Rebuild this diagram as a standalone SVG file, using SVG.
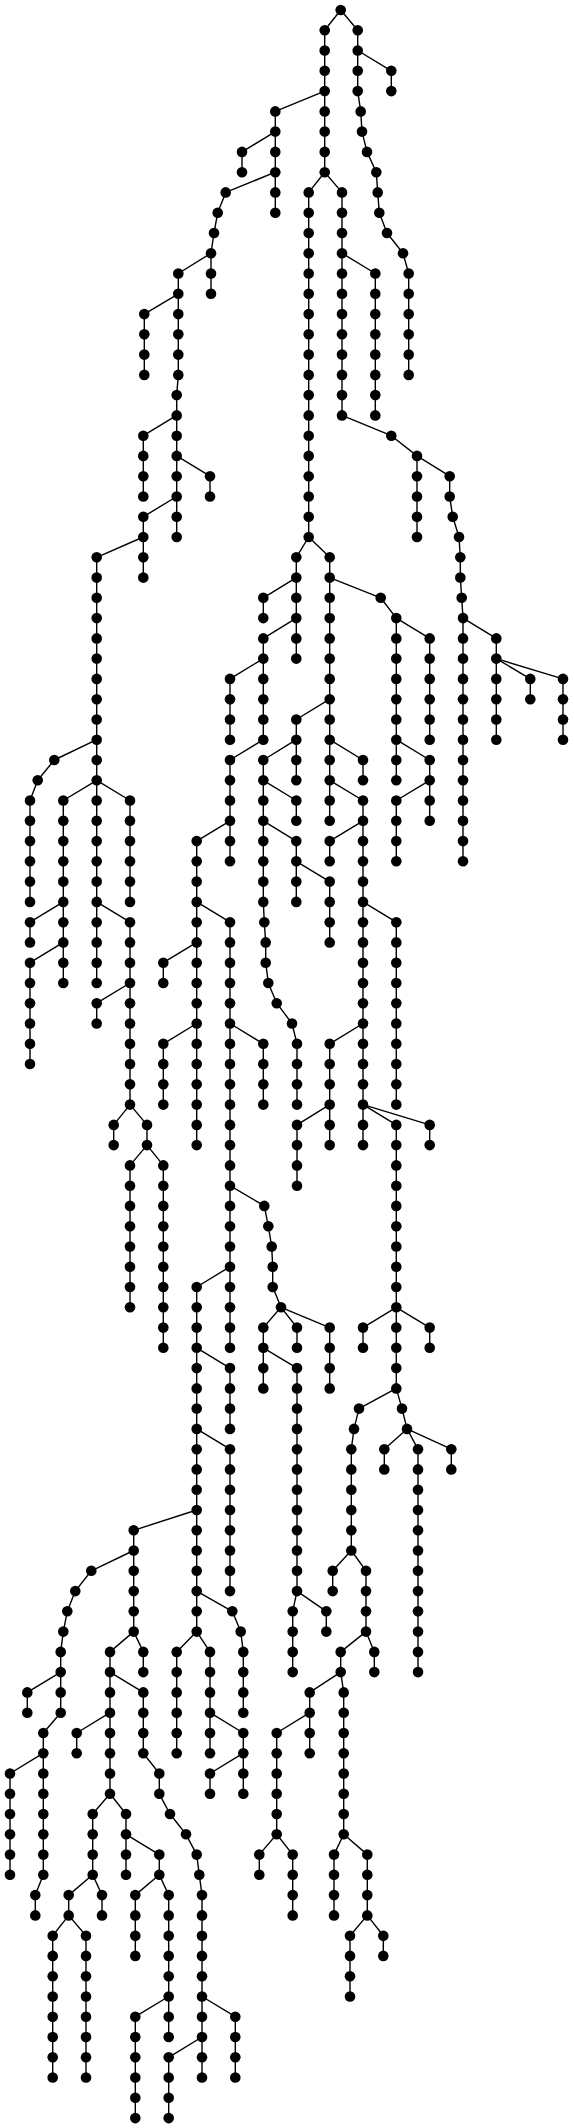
<svg xmlns="http://www.w3.org/2000/svg" width="574" height="2128" viewBox="0 0 574 2128">
<style>.e{fill:none;stroke:#000;stroke-width:1.4;stroke-linejoin:round}circle{fill:#000}</style>
<rect width="574" height="2128" fill="#fff"/>
<g id="connectors" class="e">
<path d="M340.7 10 L324.7 30.3 V172.2"/>
<path d="M340.7 10 L357.7 30.3 V91.1 L360.7 111.4 L362 131.6 L367 151.9 L376.3 172.2 L377.7 192.4 L379.3 212.7 L387 233 L403 253.2 L408.7 273.5 V374.9"/>
<path d="M357.7 50.5 L391.3 70.8 V91.1"/>
<path d="M324.7 91.1 L275.3 111.4 V212.7"/>
<path d="M275.3 131.6 L242 151.9 V172.2"/>
<path d="M275.3 172.2 L225.7 192.4 L217.7 212.7 L214 233 L211 253.2 V293.8"/>
<path d="M211 253.2 L178.3 273.5 V374.9 L176.7 395.1 V537"/>
<path d="M178.3 293.8 L144.3 314.1 V374.9"/>
<path d="M176.7 415.4 L143.3 435.7 V496.5"/>
<path d="M176.7 455.9 L210 476.2 V496.5"/>
<path d="M176.7 496.5 L143.3 516.8 V577.6"/>
<path d="M143.3 537 L96.7 557.3 V983"/>
<path d="M96.7 739.7 L54.3 760 L37.7 780.3 L30 800.5 V901.9"/>
<path d="M96.7 780.3 L63.3 800.5 V983"/>
<path d="M63.3 901.9 L30 922.2 V942.4"/>
<path d="M63.3 942.4 L30 962.7 V1064"/>
<path d="M96.7 780.3 L130 800.5 V901.9"/>
<path d="M96.7 901.9 L130 922.2 V1104.6"/>
<path d="M130 983 L96.7 1003.2 V1023.5"/>
<path d="M130 1104.6 L113.7 1124.9 V1145.1"/>
<path d="M130 1104.6 L147 1124.9 V1145.1"/>
<path d="M147 1145.1 L130 1165.4 V1307.3"/>
<path d="M147 1145.1 L163.3 1165.4 V1347.8"/>
<path d="M324.7 172.2 L308.7 192.4 V537"/>
<path d="M324.7 172.2 L342 192.4 V415.4 L391.3 435.7 L417 455.9 V537"/>
<path d="M342 253.2 L375.3 273.5 V415.4"/>
<path d="M417 455.9 L449.7 476.2 V496.5 L452.7 516.8 L459 537 L460.3 557.3 V577.6 L461.7 597.8 L463 618.1 V861.3"/>
<path d="M463 618.1 L496.3 638.4 V739.7"/>
<path d="M496.3 658.6 L530.3 678.9 V699.2"/>
<path d="M496.3 658.6 L563 678.9 V739.7"/>
<path d="M308.7 537 L296.3 557.3 V658.6"/>
<path d="M308.7 537 L329.7 557.3 V820.8"/>
<path d="M329.7 577.6 L380.7 597.8 L396.3 618.1 V780.3"/>
<path d="M396.3 618.1 L429.7 638.4 V739.7"/>
<path d="M396.3 739.7 L429.7 760 V820.8"/>
<path d="M429.7 780.3 L396.3 800.5 V861.3"/>
<path d="M296.3 577.6 L263.3 597.8 V618.1"/>
<path d="M296.3 618.1 L263.3 638.4 V739.7"/>
<path d="M263.3 658.6 L230 678.9 V739.7"/>
<path d="M263.3 739.7 L230 760 V861.3"/>
<path d="M230 820.8 L196.7 841.1 V1145.1"/>
<path d="M196.7 942.4 L163.3 962.7 V983"/>
<path d="M196.7 1023.5 L163.3 1043.8 V1104.6"/>
<path d="M196.7 901.9 L230 922.2 V1347.8"/>
<path d="M230 1023.5 L263.3 1043.8 V1104.6"/>
<path d="M230 1185.7 L264.3 1205.9 L268.3 1226.2 L271.7 1246.5 L272.7 1266.7 V1287 L281 1307.3"/>
<path d="M281 1307.3 L263.3 1327.6 V1388.4"/>
<path d="M281 1307.3 L297 1327.6 V1347.8"/>
<path d="M281 1307.3 L329.7 1327.6 V1388.4"/>
<path d="M263.3 1347.8 L297 1368.1 V1591.1"/>
<path d="M297 1591.1 L292.7 1611.3 V1672.1"/>
<path d="M297 1591.1 L326.3 1611.3 V1631.6"/>
<path d="M230 1266.7 L196.7 1287 V1631.6"/>
<path d="M196.7 1347.8 L230 1368.1 V1428.9"/>
<path d="M196.7 1428.9 L230 1449.2 V1591.1"/>
<path d="M196.7 1591.1 L232.3 1611.3 L240.7 1631.6 L243.3 1651.9 V1712.7"/>
<path d="M196.7 1631.6 L176.7 1651.9 V1753.2"/>
<path d="M196.7 1631.6 L210 1651.9 V1753.2"/>
<path d="M210 1712.7 L243.3 1733 V1793.8"/>
<path d="M243.3 1753.2 L210 1773.5 V1793.8"/>
<path d="M196.7 1510 L133.7 1530.3 V1631.6"/>
<path d="M133.7 1631.6 L143.3 1651.9 V1672.1"/>
<path d="M133.7 1631.6 L110 1651.9 V1793.8"/>
<path d="M110 1712.7 L76.7 1733 V1753.2"/>
<path d="M110 1672.1 L143.3 1692.4 V1753.2 L159.3 1773.5 V1793.8 L170 1814 L186 1834.3 L196.7 1854.6 L199.3 1874.8 L202 1895.1 V2077.5"/>
<path d="M202 1996.5 L235.3 2016.7 V2077.5"/>
<path d="M202 2037 L168.7 2057.3 V2118.1"/>
<path d="M110 1793.8 L92.7 1814 V1874.8"/>
<path d="M92.7 1874.8 L102 1895.1 V1915.4"/>
<path d="M92.7 1874.8 L68.7 1895.1 V1915.4"/>
<path d="M68.7 1915.4 L52.7 1935.7 V2077.5"/>
<path d="M68.7 1915.4 L86 1935.7 V2077.5"/>
<path d="M110 1793.8 L126 1814 V1874.8"/>
<path d="M126 1834.3 L159.3 1854.6 V1874.8"/>
<path d="M159.3 1874.8 L135.3 1895.1 V1955.9"/>
<path d="M159.3 1874.8 L168.7 1895.1 V2037"/>
<path d="M168.7 1996.5 L135.3 2016.7 V2118.1"/>
<path d="M133.7 1550.5 L91.3 1570.8 L75.3 1591.1 L67.3 1611.3 L63.3 1631.6 L60.7 1651.9 V1712.7"/>
<path d="M60.7 1672.1 L27.3 1692.4 V1712.7"/>
<path d="M60.7 1712.7 L43.3 1733 V1874.8"/>
<path d="M43.3 1753.2 L10 1773.5 V1874.8"/>
<path d="M43.3 1874.8 L35.3 1895.1 V1915.4"/>
<path d="M329.7 699.2 L296.3 719.5 V780.3"/>
<path d="M296.3 739.7 L263.3 760 V901.9 L264.3 922.2 L265.7 942.4 L265.7 962.7 L268.3 983 L276.7 1003.2 L292 1023.5 L297 1043.8 V1104.6"/>
<path d="M263.3 780.3 L296.3 800.5 V820.8"/>
<path d="M263.3 820.8 L296.3 841.1 V901.9"/>
<path d="M296.3 861.3 L329.7 881.6 V942.4"/>
<path d="M329.7 739.7 L363 760 V780.3"/>
<path d="M329.7 780.3 L363 800.5 V1145.1"/>
<path d="M363 820.8 L329.7 841.1 V861.3"/>
<path d="M363 901.9 L396.3 922.2 V1104.6"/>
<path d="M363 1023.5 L329.7 1043.8 V1145.1"/>
<path d="M329.7 1104.6 L297 1124.9 V1185.7"/>
<path d="M363 1104.6 L429.7 1124.9 V1145.1"/>
<path d="M363 1104.6 L396.3 1124.9 V1388.4"/>
<path d="M396.3 1307.3 L363 1327.6 V1347.8"/>
<path d="M396.3 1307.3 L429.7 1327.6 V1347.8"/>
<path d="M396.3 1388.4 L359 1408.6 L354 1428.9 L351.3 1449.2 V1550.5"/>
<path d="M351.3 1550.5 L332.7 1570.8 V1591.1"/>
<path d="M351.3 1550.5 L366 1570.8 V1631.6"/>
<path d="M366 1631.6 L374.3 1651.9 V1672.1"/>
<path d="M366 1631.6 L340.7 1651.9 V1672.1"/>
<path d="M340.7 1672.1 L309.7 1692.4 V1753.2"/>
<path d="M309.7 1712.7 L276.7 1733 V1834.3"/>
<path d="M276.7 1834.3 L259.3 1854.6 V1874.8"/>
<path d="M276.7 1834.3 L292.7 1854.6 V1915.4"/>
<path d="M340.7 1672.1 L343.7 1692.4 V1834.3"/>
<path d="M343.7 1834.3 L334 1854.6 V1915.4"/>
<path d="M343.7 1834.3 L367.3 1854.6 V1915.4"/>
<path d="M367.3 1915.4 L350 1935.7 V1996.5"/>
<path d="M367.3 1915.4 L383.3 1935.7 V1955.9"/>
<path d="M396.3 1388.4 L402 1408.6 L407 1428.9"/>
<path d="M407 1428.9 L384.3 1449.2 V1469.4"/>
<path d="M407 1428.9 L418 1449.2 V1672.1"/>
<path d="M407 1428.9 L451.3 1449.2 V1469.4"/>
</g>
<g id="nodes">
<g id="n0"><circle cx="340.7" cy="10" r="5.3"/></g>
<g id="c2-1"><circle cx="324.7" cy="30.3" r="5.3"/></g>
<g id="c2-2"><circle cx="324.7" cy="50.5" r="5.3"/></g>
<g id="c2-3"><circle cx="324.7" cy="70.8" r="5.3"/></g>
<g id="c2-4"><circle cx="324.7" cy="91.1" r="5.3"/></g>
<g id="c2-5"><circle cx="324.7" cy="111.4" r="5.3"/></g>
<g id="c2-6"><circle cx="324.7" cy="131.6" r="5.3"/></g>
<g id="c2-7"><circle cx="324.7" cy="151.9" r="5.3"/></g>
<g id="c2-8"><circle cx="324.7" cy="172.2" r="5.3"/></g>
<g id="c3-1"><circle cx="357.7" cy="30.3" r="5.3"/></g>
<g id="c3-2"><circle cx="357.7" cy="50.5" r="5.3"/></g>
<g id="c3-3"><circle cx="357.7" cy="70.8" r="5.3"/></g>
<g id="c3-4"><circle cx="357.7" cy="91.1" r="5.3"/></g>
<g id="c3-5"><circle cx="360.7" cy="111.4" r="5.3"/></g>
<g id="c3-6"><circle cx="362" cy="131.6" r="5.3"/></g>
<g id="c3-7"><circle cx="367" cy="151.9" r="5.3"/></g>
<g id="c3-8"><circle cx="376.3" cy="172.2" r="5.3"/></g>
<g id="c3-9"><circle cx="377.7" cy="192.4" r="5.3"/></g>
<g id="c3-10"><circle cx="379.3" cy="212.7" r="5.3"/></g>
<g id="c3-11"><circle cx="387" cy="233" r="5.3"/></g>
<g id="c3-12"><circle cx="403" cy="253.2" r="5.3"/></g>
<g id="c3-13"><circle cx="408.7" cy="273.5" r="5.3"/></g>
<g id="c3-14"><circle cx="408.7" cy="293.8" r="5.3"/></g>
<g id="c3-15"><circle cx="408.7" cy="314.1" r="5.3"/></g>
<g id="c3-16"><circle cx="408.7" cy="334.3" r="5.3"/></g>
<g id="c3-17"><circle cx="408.7" cy="354.6" r="5.3"/></g>
<g id="c3-18"><circle cx="408.7" cy="374.9" r="5.3"/></g>
<g id="c4-1"><circle cx="391.3" cy="70.8" r="5.3"/></g>
<g id="c4-2"><circle cx="391.3" cy="91.1" r="5.3"/></g>
<g id="c5-1"><circle cx="275.3" cy="111.4" r="5.3"/></g>
<g id="c5-2"><circle cx="275.3" cy="131.6" r="5.3"/></g>
<g id="c5-3"><circle cx="275.3" cy="151.9" r="5.3"/></g>
<g id="c5-4"><circle cx="275.3" cy="172.2" r="5.3"/></g>
<g id="c5-5"><circle cx="275.3" cy="192.4" r="5.3"/></g>
<g id="c5-6"><circle cx="275.3" cy="212.7" r="5.3"/></g>
<g id="c6-1"><circle cx="242" cy="151.9" r="5.3"/></g>
<g id="c6-2"><circle cx="242" cy="172.2" r="5.3"/></g>
<g id="c7-1"><circle cx="225.7" cy="192.4" r="5.3"/></g>
<g id="c7-2"><circle cx="217.7" cy="212.7" r="5.3"/></g>
<g id="c7-3"><circle cx="214" cy="233" r="5.3"/></g>
<g id="c7-4"><circle cx="211" cy="253.2" r="5.3"/></g>
<g id="c7-5"><circle cx="211" cy="273.5" r="5.3"/></g>
<g id="c7-6"><circle cx="211" cy="293.8" r="5.3"/></g>
<g id="c8-1"><circle cx="178.3" cy="273.5" r="5.3"/></g>
<g id="c8-2"><circle cx="178.3" cy="293.8" r="5.3"/></g>
<g id="c8-3"><circle cx="178.3" cy="314.1" r="5.3"/></g>
<g id="c8-4"><circle cx="178.3" cy="334.3" r="5.3"/></g>
<g id="c8-5"><circle cx="178.3" cy="354.6" r="5.3"/></g>
<g id="c8-6"><circle cx="178.3" cy="374.9" r="5.3"/></g>
<g id="c8-7"><circle cx="176.7" cy="395.1" r="5.3"/></g>
<g id="c8-8"><circle cx="176.7" cy="415.4" r="5.3"/></g>
<g id="c8-9"><circle cx="176.7" cy="435.7" r="5.3"/></g>
<g id="c8-10"><circle cx="176.7" cy="455.9" r="5.3"/></g>
<g id="c8-11"><circle cx="176.7" cy="476.2" r="5.3"/></g>
<g id="c8-12"><circle cx="176.7" cy="496.5" r="5.3"/></g>
<g id="c8-13"><circle cx="176.7" cy="516.8" r="5.3"/></g>
<g id="c8-14"><circle cx="176.7" cy="537" r="5.3"/></g>
<g id="c9-1"><circle cx="144.3" cy="314.1" r="5.3"/></g>
<g id="c9-2"><circle cx="144.3" cy="334.3" r="5.3"/></g>
<g id="c9-3"><circle cx="144.3" cy="354.6" r="5.3"/></g>
<g id="c9-4"><circle cx="144.3" cy="374.9" r="5.3"/></g>
<g id="c10-1"><circle cx="143.3" cy="435.7" r="5.3"/></g>
<g id="c10-2"><circle cx="143.3" cy="455.9" r="5.3"/></g>
<g id="c10-3"><circle cx="143.3" cy="476.2" r="5.3"/></g>
<g id="c10-4"><circle cx="143.3" cy="496.5" r="5.3"/></g>
<g id="c11-1"><circle cx="210" cy="476.2" r="5.3"/></g>
<g id="c11-2"><circle cx="210" cy="496.5" r="5.3"/></g>
<g id="c12-1"><circle cx="143.3" cy="516.8" r="5.3"/></g>
<g id="c12-2"><circle cx="143.3" cy="537" r="5.3"/></g>
<g id="c12-3"><circle cx="143.3" cy="557.3" r="5.3"/></g>
<g id="c12-4"><circle cx="143.3" cy="577.6" r="5.3"/></g>
<g id="c13-1"><circle cx="96.7" cy="557.3" r="5.3"/></g>
<g id="c13-2"><circle cx="96.7" cy="577.6" r="5.3"/></g>
<g id="c13-3"><circle cx="96.7" cy="597.8" r="5.3"/></g>
<g id="c13-4"><circle cx="96.7" cy="618.1" r="5.3"/></g>
<g id="c13-5"><circle cx="96.7" cy="638.4" r="5.3"/></g>
<g id="c13-6"><circle cx="96.7" cy="658.6" r="5.3"/></g>
<g id="c13-7"><circle cx="96.7" cy="678.9" r="5.3"/></g>
<g id="c13-8"><circle cx="96.7" cy="699.2" r="5.3"/></g>
<g id="c13-9"><circle cx="96.7" cy="719.5" r="5.3"/></g>
<g id="c13-10"><circle cx="96.7" cy="739.7" r="5.3"/></g>
<g id="c13-11"><circle cx="96.7" cy="760" r="5.3"/></g>
<g id="c13-12"><circle cx="96.7" cy="780.3" r="5.3"/></g>
<g id="c13-13"><circle cx="96.7" cy="800.5" r="5.3"/></g>
<g id="c13-14"><circle cx="96.7" cy="820.8" r="5.3"/></g>
<g id="c13-15"><circle cx="96.7" cy="841.1" r="5.3"/></g>
<g id="c13-16"><circle cx="96.7" cy="861.3" r="5.3"/></g>
<g id="c13-17"><circle cx="96.7" cy="881.6" r="5.3"/></g>
<g id="c13-18"><circle cx="96.7" cy="901.9" r="5.3"/></g>
<g id="c13-19"><circle cx="96.7" cy="922.2" r="5.3"/></g>
<g id="c13-20"><circle cx="96.7" cy="942.4" r="5.3"/></g>
<g id="c13-21"><circle cx="96.7" cy="962.7" r="5.3"/></g>
<g id="c13-22"><circle cx="96.7" cy="983" r="5.3"/></g>
<g id="c14-1"><circle cx="54.3" cy="760" r="5.3"/></g>
<g id="c14-2"><circle cx="37.7" cy="780.3" r="5.3"/></g>
<g id="c14-3"><circle cx="30" cy="800.5" r="5.3"/></g>
<g id="c14-4"><circle cx="30" cy="820.8" r="5.3"/></g>
<g id="c14-5"><circle cx="30" cy="841.1" r="5.3"/></g>
<g id="c14-6"><circle cx="30" cy="861.3" r="5.3"/></g>
<g id="c14-7"><circle cx="30" cy="881.6" r="5.3"/></g>
<g id="c14-8"><circle cx="30" cy="901.9" r="5.3"/></g>
<g id="c15-1"><circle cx="63.3" cy="800.5" r="5.3"/></g>
<g id="c15-2"><circle cx="63.3" cy="820.8" r="5.3"/></g>
<g id="c15-3"><circle cx="63.3" cy="841.1" r="5.3"/></g>
<g id="c15-4"><circle cx="63.3" cy="861.3" r="5.3"/></g>
<g id="c15-5"><circle cx="63.3" cy="881.6" r="5.3"/></g>
<g id="c15-6"><circle cx="63.3" cy="901.9" r="5.3"/></g>
<g id="c15-7"><circle cx="63.3" cy="922.2" r="5.3"/></g>
<g id="c15-8"><circle cx="63.3" cy="942.4" r="5.3"/></g>
<g id="c15-9"><circle cx="63.3" cy="962.7" r="5.3"/></g>
<g id="c15-10"><circle cx="63.3" cy="983" r="5.3"/></g>
<g id="c16-1"><circle cx="30" cy="922.2" r="5.3"/></g>
<g id="c16-2"><circle cx="30" cy="942.4" r="5.3"/></g>
<g id="c17-1"><circle cx="30" cy="962.7" r="5.3"/></g>
<g id="c17-2"><circle cx="30" cy="983" r="5.3"/></g>
<g id="c17-3"><circle cx="30" cy="1003.2" r="5.3"/></g>
<g id="c17-4"><circle cx="30" cy="1023.5" r="5.3"/></g>
<g id="c17-5"><circle cx="30" cy="1043.8" r="5.3"/></g>
<g id="c17-6"><circle cx="30" cy="1064" r="5.3"/></g>
<g id="c18-1"><circle cx="130" cy="800.5" r="5.3"/></g>
<g id="c18-2"><circle cx="130" cy="820.8" r="5.3"/></g>
<g id="c18-3"><circle cx="130" cy="841.1" r="5.3"/></g>
<g id="c18-4"><circle cx="130" cy="861.3" r="5.3"/></g>
<g id="c18-5"><circle cx="130" cy="881.6" r="5.3"/></g>
<g id="c18-6"><circle cx="130" cy="901.9" r="5.3"/></g>
<g id="c19-1"><circle cx="130" cy="922.2" r="5.3"/></g>
<g id="c19-2"><circle cx="130" cy="942.4" r="5.3"/></g>
<g id="c19-3"><circle cx="130" cy="962.7" r="5.3"/></g>
<g id="c19-4"><circle cx="130" cy="983" r="5.3"/></g>
<g id="c19-5"><circle cx="130" cy="1003.2" r="5.3"/></g>
<g id="c19-6"><circle cx="130" cy="1023.5" r="5.3"/></g>
<g id="c19-7"><circle cx="130" cy="1043.8" r="5.3"/></g>
<g id="c19-8"><circle cx="130" cy="1064" r="5.3"/></g>
<g id="c19-9"><circle cx="130" cy="1084.3" r="5.3"/></g>
<g id="c19-10"><circle cx="130" cy="1104.6" r="5.3"/></g>
<g id="c20-1"><circle cx="96.7" cy="1003.2" r="5.3"/></g>
<g id="c20-2"><circle cx="96.7" cy="1023.5" r="5.3"/></g>
<g id="c21-1"><circle cx="113.7" cy="1124.9" r="5.3"/></g>
<g id="c21-2"><circle cx="113.7" cy="1145.1" r="5.3"/></g>
<g id="c22-1"><circle cx="147" cy="1124.9" r="5.3"/></g>
<g id="c22-2"><circle cx="147" cy="1145.1" r="5.3"/></g>
<g id="c23-1"><circle cx="130" cy="1165.4" r="5.3"/></g>
<g id="c23-2"><circle cx="130" cy="1185.7" r="5.3"/></g>
<g id="c23-3"><circle cx="130" cy="1205.9" r="5.3"/></g>
<g id="c23-4"><circle cx="130" cy="1226.2" r="5.3"/></g>
<g id="c23-5"><circle cx="130" cy="1246.5" r="5.3"/></g>
<g id="c23-6"><circle cx="130" cy="1266.7" r="5.3"/></g>
<g id="c23-7"><circle cx="130" cy="1287" r="5.3"/></g>
<g id="c23-8"><circle cx="130" cy="1307.3" r="5.3"/></g>
<g id="c24-1"><circle cx="163.3" cy="1165.4" r="5.3"/></g>
<g id="c24-2"><circle cx="163.3" cy="1185.7" r="5.3"/></g>
<g id="c24-3"><circle cx="163.3" cy="1205.9" r="5.3"/></g>
<g id="c24-4"><circle cx="163.3" cy="1226.2" r="5.3"/></g>
<g id="c24-5"><circle cx="163.3" cy="1246.5" r="5.3"/></g>
<g id="c24-6"><circle cx="163.3" cy="1266.7" r="5.3"/></g>
<g id="c24-7"><circle cx="163.3" cy="1287" r="5.3"/></g>
<g id="c24-8"><circle cx="163.3" cy="1307.3" r="5.3"/></g>
<g id="c24-9"><circle cx="163.3" cy="1327.6" r="5.3"/></g>
<g id="c24-10"><circle cx="163.3" cy="1347.8" r="5.3"/></g>
<g id="c25-1"><circle cx="308.7" cy="192.4" r="5.3"/></g>
<g id="c25-2"><circle cx="308.7" cy="212.7" r="5.3"/></g>
<g id="c25-3"><circle cx="308.7" cy="233" r="5.3"/></g>
<g id="c25-4"><circle cx="308.7" cy="253.2" r="5.3"/></g>
<g id="c25-5"><circle cx="308.7" cy="273.5" r="5.3"/></g>
<g id="c25-6"><circle cx="308.7" cy="293.8" r="5.3"/></g>
<g id="c25-7"><circle cx="308.7" cy="314.1" r="5.3"/></g>
<g id="c25-8"><circle cx="308.7" cy="334.3" r="5.3"/></g>
<g id="c25-9"><circle cx="308.7" cy="354.6" r="5.3"/></g>
<g id="c25-10"><circle cx="308.7" cy="374.9" r="5.3"/></g>
<g id="c25-11"><circle cx="308.7" cy="395.1" r="5.3"/></g>
<g id="c25-12"><circle cx="308.7" cy="415.4" r="5.3"/></g>
<g id="c25-13"><circle cx="308.7" cy="435.7" r="5.3"/></g>
<g id="c25-14"><circle cx="308.7" cy="455.9" r="5.3"/></g>
<g id="c25-15"><circle cx="308.7" cy="476.2" r="5.3"/></g>
<g id="c25-16"><circle cx="308.7" cy="496.5" r="5.3"/></g>
<g id="c25-17"><circle cx="308.7" cy="516.8" r="5.3"/></g>
<g id="c25-18"><circle cx="308.7" cy="537" r="5.3"/></g>
<g id="c26-1"><circle cx="342" cy="192.4" r="5.3"/></g>
<g id="c26-2"><circle cx="342" cy="212.7" r="5.3"/></g>
<g id="c26-3"><circle cx="342" cy="233" r="5.3"/></g>
<g id="c26-4"><circle cx="342" cy="253.2" r="5.3"/></g>
<g id="c26-5"><circle cx="342" cy="273.5" r="5.3"/></g>
<g id="c26-6"><circle cx="342" cy="293.8" r="5.3"/></g>
<g id="c26-7"><circle cx="342" cy="314.1" r="5.3"/></g>
<g id="c26-8"><circle cx="342" cy="334.3" r="5.3"/></g>
<g id="c26-9"><circle cx="342" cy="354.6" r="5.3"/></g>
<g id="c26-10"><circle cx="342" cy="374.9" r="5.3"/></g>
<g id="c26-11"><circle cx="342" cy="395.1" r="5.3"/></g>
<g id="c26-12"><circle cx="342" cy="415.4" r="5.3"/></g>
<g id="c26-13"><circle cx="391.3" cy="435.7" r="5.3"/></g>
<g id="c26-14"><circle cx="417" cy="455.9" r="5.3"/></g>
<g id="c26-15"><circle cx="417" cy="476.2" r="5.3"/></g>
<g id="c26-16"><circle cx="417" cy="496.5" r="5.3"/></g>
<g id="c26-17"><circle cx="417" cy="516.8" r="5.3"/></g>
<g id="c26-18"><circle cx="417" cy="537" r="5.3"/></g>
<g id="c27-1"><circle cx="375.3" cy="273.5" r="5.3"/></g>
<g id="c27-2"><circle cx="375.3" cy="293.8" r="5.3"/></g>
<g id="c27-3"><circle cx="375.3" cy="314.1" r="5.3"/></g>
<g id="c27-4"><circle cx="375.3" cy="334.3" r="5.3"/></g>
<g id="c27-5"><circle cx="375.3" cy="354.6" r="5.3"/></g>
<g id="c27-6"><circle cx="375.3" cy="374.9" r="5.3"/></g>
<g id="c27-7"><circle cx="375.3" cy="395.1" r="5.3"/></g>
<g id="c27-8"><circle cx="375.3" cy="415.4" r="5.3"/></g>
<g id="c28-1"><circle cx="449.7" cy="476.2" r="5.3"/></g>
<g id="c28-2"><circle cx="449.7" cy="496.5" r="5.3"/></g>
<g id="c28-3"><circle cx="452.7" cy="516.8" r="5.3"/></g>
<g id="c28-4"><circle cx="459" cy="537" r="5.3"/></g>
<g id="c28-5"><circle cx="460.3" cy="557.3" r="5.3"/></g>
<g id="c28-6"><circle cx="460.3" cy="577.6" r="5.3"/></g>
<g id="c28-7"><circle cx="461.7" cy="597.8" r="5.3"/></g>
<g id="c28-8"><circle cx="463" cy="618.1" r="5.3"/></g>
<g id="c28-9"><circle cx="463" cy="638.4" r="5.3"/></g>
<g id="c28-10"><circle cx="463" cy="658.6" r="5.3"/></g>
<g id="c28-11"><circle cx="463" cy="678.9" r="5.3"/></g>
<g id="c28-12"><circle cx="463" cy="699.2" r="5.3"/></g>
<g id="c28-13"><circle cx="463" cy="719.5" r="5.3"/></g>
<g id="c28-14"><circle cx="463" cy="739.7" r="5.3"/></g>
<g id="c28-15"><circle cx="463" cy="760" r="5.3"/></g>
<g id="c28-16"><circle cx="463" cy="780.3" r="5.3"/></g>
<g id="c28-17"><circle cx="463" cy="800.5" r="5.3"/></g>
<g id="c28-18"><circle cx="463" cy="820.8" r="5.3"/></g>
<g id="c28-19"><circle cx="463" cy="841.1" r="5.3"/></g>
<g id="c28-20"><circle cx="463" cy="861.3" r="5.3"/></g>
<g id="c29-1"><circle cx="496.3" cy="638.4" r="5.3"/></g>
<g id="c29-2"><circle cx="496.3" cy="658.6" r="5.3"/></g>
<g id="c29-3"><circle cx="496.3" cy="678.9" r="5.3"/></g>
<g id="c29-4"><circle cx="496.3" cy="699.2" r="5.3"/></g>
<g id="c29-5"><circle cx="496.3" cy="719.5" r="5.3"/></g>
<g id="c29-6"><circle cx="496.3" cy="739.7" r="5.3"/></g>
<g id="c30-1"><circle cx="530.3" cy="678.9" r="5.3"/></g>
<g id="c30-2"><circle cx="530.3" cy="699.2" r="5.3"/></g>
<g id="c31-1"><circle cx="563" cy="678.9" r="5.3"/></g>
<g id="c31-2"><circle cx="563" cy="699.2" r="5.3"/></g>
<g id="c31-3"><circle cx="563" cy="719.5" r="5.3"/></g>
<g id="c31-4"><circle cx="563" cy="739.7" r="5.3"/></g>
<g id="c32-1"><circle cx="296.3" cy="557.3" r="5.3"/></g>
<g id="c32-2"><circle cx="296.3" cy="577.6" r="5.3"/></g>
<g id="c32-3"><circle cx="296.3" cy="597.8" r="5.3"/></g>
<g id="c32-4"><circle cx="296.3" cy="618.1" r="5.3"/></g>
<g id="c32-5"><circle cx="296.3" cy="638.4" r="5.3"/></g>
<g id="c32-6"><circle cx="296.3" cy="658.6" r="5.3"/></g>
<g id="c33-1"><circle cx="329.7" cy="557.3" r="5.3"/></g>
<g id="c33-2"><circle cx="329.7" cy="577.6" r="5.3"/></g>
<g id="c33-3"><circle cx="329.7" cy="597.8" r="5.3"/></g>
<g id="c33-4"><circle cx="329.7" cy="618.1" r="5.3"/></g>
<g id="c33-5"><circle cx="329.7" cy="638.4" r="5.3"/></g>
<g id="c33-6"><circle cx="329.7" cy="658.6" r="5.3"/></g>
<g id="c33-7"><circle cx="329.7" cy="678.9" r="5.3"/></g>
<g id="c33-8"><circle cx="329.7" cy="699.2" r="5.3"/></g>
<g id="c33-9"><circle cx="329.7" cy="719.5" r="5.3"/></g>
<g id="c33-10"><circle cx="329.7" cy="739.7" r="5.3"/></g>
<g id="c33-11"><circle cx="329.7" cy="760" r="5.3"/></g>
<g id="c33-12"><circle cx="329.7" cy="780.3" r="5.3"/></g>
<g id="c33-13"><circle cx="329.7" cy="800.5" r="5.3"/></g>
<g id="c33-14"><circle cx="329.7" cy="820.8" r="5.3"/></g>
<g id="c34-1"><circle cx="380.7" cy="597.8" r="5.3"/></g>
<g id="c34-2"><circle cx="396.3" cy="618.1" r="5.3"/></g>
<g id="c34-3"><circle cx="396.3" cy="638.4" r="5.3"/></g>
<g id="c34-4"><circle cx="396.3" cy="658.6" r="5.3"/></g>
<g id="c34-5"><circle cx="396.3" cy="678.9" r="5.3"/></g>
<g id="c34-6"><circle cx="396.3" cy="699.2" r="5.3"/></g>
<g id="c34-7"><circle cx="396.3" cy="719.5" r="5.3"/></g>
<g id="c34-8"><circle cx="396.3" cy="739.7" r="5.3"/></g>
<g id="c34-9"><circle cx="396.3" cy="760" r="5.3"/></g>
<g id="c34-10"><circle cx="396.3" cy="780.3" r="5.3"/></g>
<g id="c35-1"><circle cx="429.7" cy="638.4" r="5.3"/></g>
<g id="c35-2"><circle cx="429.7" cy="658.6" r="5.3"/></g>
<g id="c35-3"><circle cx="429.7" cy="678.9" r="5.3"/></g>
<g id="c35-4"><circle cx="429.7" cy="699.2" r="5.3"/></g>
<g id="c35-5"><circle cx="429.7" cy="719.5" r="5.3"/></g>
<g id="c35-6"><circle cx="429.7" cy="739.7" r="5.3"/></g>
<g id="c36-1"><circle cx="429.7" cy="760" r="5.3"/></g>
<g id="c36-2"><circle cx="429.7" cy="780.3" r="5.3"/></g>
<g id="c36-3"><circle cx="429.7" cy="800.5" r="5.3"/></g>
<g id="c36-4"><circle cx="429.7" cy="820.8" r="5.3"/></g>
<g id="c37-1"><circle cx="396.3" cy="800.5" r="5.3"/></g>
<g id="c37-2"><circle cx="396.3" cy="820.8" r="5.3"/></g>
<g id="c37-3"><circle cx="396.3" cy="841.1" r="5.3"/></g>
<g id="c37-4"><circle cx="396.3" cy="861.3" r="5.3"/></g>
<g id="c38-1"><circle cx="263.3" cy="597.8" r="5.3"/></g>
<g id="c38-2"><circle cx="263.3" cy="618.1" r="5.3"/></g>
<g id="c39-1"><circle cx="263.3" cy="638.4" r="5.3"/></g>
<g id="c39-2"><circle cx="263.3" cy="658.6" r="5.3"/></g>
<g id="c39-3"><circle cx="263.3" cy="678.9" r="5.3"/></g>
<g id="c39-4"><circle cx="263.3" cy="699.2" r="5.3"/></g>
<g id="c39-5"><circle cx="263.3" cy="719.5" r="5.3"/></g>
<g id="c39-6"><circle cx="263.3" cy="739.7" r="5.3"/></g>
<g id="c40-1"><circle cx="230" cy="678.9" r="5.3"/></g>
<g id="c40-2"><circle cx="230" cy="699.2" r="5.3"/></g>
<g id="c40-3"><circle cx="230" cy="719.5" r="5.3"/></g>
<g id="c40-4"><circle cx="230" cy="739.7" r="5.3"/></g>
<g id="c41-1"><circle cx="230" cy="760" r="5.3"/></g>
<g id="c41-2"><circle cx="230" cy="780.3" r="5.3"/></g>
<g id="c41-3"><circle cx="230" cy="800.5" r="5.3"/></g>
<g id="c41-4"><circle cx="230" cy="820.8" r="5.3"/></g>
<g id="c41-5"><circle cx="230" cy="841.1" r="5.3"/></g>
<g id="c41-6"><circle cx="230" cy="861.3" r="5.3"/></g>
<g id="c42-1"><circle cx="196.7" cy="841.1" r="5.3"/></g>
<g id="c42-2"><circle cx="196.7" cy="861.3" r="5.3"/></g>
<g id="c42-3"><circle cx="196.7" cy="881.6" r="5.3"/></g>
<g id="c42-4"><circle cx="196.7" cy="901.9" r="5.3"/></g>
<g id="c42-5"><circle cx="196.7" cy="922.2" r="5.3"/></g>
<g id="c42-6"><circle cx="196.7" cy="942.4" r="5.3"/></g>
<g id="c42-7"><circle cx="196.7" cy="962.7" r="5.3"/></g>
<g id="c42-8"><circle cx="196.7" cy="983" r="5.3"/></g>
<g id="c42-9"><circle cx="196.7" cy="1003.2" r="5.3"/></g>
<g id="c42-10"><circle cx="196.7" cy="1023.5" r="5.3"/></g>
<g id="c42-11"><circle cx="196.7" cy="1043.8" r="5.3"/></g>
<g id="c42-12"><circle cx="196.7" cy="1064" r="5.3"/></g>
<g id="c42-13"><circle cx="196.7" cy="1084.3" r="5.3"/></g>
<g id="c42-14"><circle cx="196.7" cy="1104.6" r="5.3"/></g>
<g id="c42-15"><circle cx="196.7" cy="1124.9" r="5.3"/></g>
<g id="c42-16"><circle cx="196.7" cy="1145.1" r="5.3"/></g>
<g id="c43-1"><circle cx="163.3" cy="962.7" r="5.3"/></g>
<g id="c43-2"><circle cx="163.3" cy="983" r="5.3"/></g>
<g id="c44-1"><circle cx="163.3" cy="1043.8" r="5.3"/></g>
<g id="c44-2"><circle cx="163.3" cy="1064" r="5.3"/></g>
<g id="c44-3"><circle cx="163.3" cy="1084.3" r="5.3"/></g>
<g id="c44-4"><circle cx="163.3" cy="1104.6" r="5.3"/></g>
<g id="c45-1"><circle cx="230" cy="922.2" r="5.3"/></g>
<g id="c45-2"><circle cx="230" cy="942.4" r="5.3"/></g>
<g id="c45-3"><circle cx="230" cy="962.7" r="5.3"/></g>
<g id="c45-4"><circle cx="230" cy="983" r="5.3"/></g>
<g id="c45-5"><circle cx="230" cy="1003.2" r="5.3"/></g>
<g id="c45-6"><circle cx="230" cy="1023.5" r="5.3"/></g>
<g id="c45-7"><circle cx="230" cy="1043.8" r="5.3"/></g>
<g id="c45-8"><circle cx="230" cy="1064" r="5.3"/></g>
<g id="c45-9"><circle cx="230" cy="1084.3" r="5.3"/></g>
<g id="c45-10"><circle cx="230" cy="1104.6" r="5.3"/></g>
<g id="c45-11"><circle cx="230" cy="1124.9" r="5.3"/></g>
<g id="c45-12"><circle cx="230" cy="1145.1" r="5.3"/></g>
<g id="c45-13"><circle cx="230" cy="1165.4" r="5.3"/></g>
<g id="c45-14"><circle cx="230" cy="1185.7" r="5.3"/></g>
<g id="c45-15"><circle cx="230" cy="1205.9" r="5.3"/></g>
<g id="c45-16"><circle cx="230" cy="1226.2" r="5.3"/></g>
<g id="c45-17"><circle cx="230" cy="1246.5" r="5.3"/></g>
<g id="c45-18"><circle cx="230" cy="1266.7" r="5.3"/></g>
<g id="c45-19"><circle cx="230" cy="1287" r="5.3"/></g>
<g id="c45-20"><circle cx="230" cy="1307.3" r="5.3"/></g>
<g id="c45-21"><circle cx="230" cy="1327.6" r="5.3"/></g>
<g id="c45-22"><circle cx="230" cy="1347.8" r="5.3"/></g>
<g id="c46-1"><circle cx="263.3" cy="1043.8" r="5.3"/></g>
<g id="c46-2"><circle cx="263.3" cy="1064" r="5.3"/></g>
<g id="c46-3"><circle cx="263.3" cy="1084.3" r="5.3"/></g>
<g id="c46-4"><circle cx="263.3" cy="1104.6" r="5.3"/></g>
<g id="c47-1"><circle cx="264.3" cy="1205.9" r="5.3"/></g>
<g id="c47-2"><circle cx="268.3" cy="1226.2" r="5.3"/></g>
<g id="c47-3"><circle cx="271.7" cy="1246.5" r="5.3"/></g>
<g id="c47-4"><circle cx="272.7" cy="1266.7" r="5.3"/></g>
<g id="c47-5"><circle cx="272.7" cy="1287" r="5.3"/></g>
<g id="c47-6"><circle cx="281" cy="1307.3" r="5.3"/></g>
<g id="c48-1"><circle cx="263.3" cy="1327.6" r="5.3"/></g>
<g id="c48-2"><circle cx="263.3" cy="1347.8" r="5.3"/></g>
<g id="c48-3"><circle cx="263.3" cy="1368.1" r="5.3"/></g>
<g id="c48-4"><circle cx="263.3" cy="1388.4" r="5.3"/></g>
<g id="c49-1"><circle cx="297" cy="1327.6" r="5.3"/></g>
<g id="c49-2"><circle cx="297" cy="1347.8" r="5.3"/></g>
<g id="c50-1"><circle cx="329.7" cy="1327.6" r="5.3"/></g>
<g id="c50-2"><circle cx="329.7" cy="1347.8" r="5.3"/></g>
<g id="c50-3"><circle cx="329.7" cy="1368.1" r="5.3"/></g>
<g id="c50-4"><circle cx="329.7" cy="1388.4" r="5.3"/></g>
<g id="c51-1"><circle cx="297" cy="1368.1" r="5.3"/></g>
<g id="c51-2"><circle cx="297" cy="1388.4" r="5.3"/></g>
<g id="c51-3"><circle cx="297" cy="1408.6" r="5.3"/></g>
<g id="c51-4"><circle cx="297" cy="1428.9" r="5.3"/></g>
<g id="c51-5"><circle cx="297" cy="1449.2" r="5.3"/></g>
<g id="c51-6"><circle cx="297" cy="1469.4" r="5.3"/></g>
<g id="c51-7"><circle cx="297" cy="1489.7" r="5.3"/></g>
<g id="c51-8"><circle cx="297" cy="1510" r="5.3"/></g>
<g id="c51-9"><circle cx="297" cy="1530.3" r="5.3"/></g>
<g id="c51-10"><circle cx="297" cy="1550.5" r="5.3"/></g>
<g id="c51-11"><circle cx="297" cy="1570.8" r="5.3"/></g>
<g id="c51-12"><circle cx="297" cy="1591.1" r="5.3"/></g>
<g id="c52-1"><circle cx="292.7" cy="1611.3" r="5.3"/></g>
<g id="c52-2"><circle cx="292.7" cy="1631.6" r="5.3"/></g>
<g id="c52-3"><circle cx="292.7" cy="1651.9" r="5.3"/></g>
<g id="c52-4"><circle cx="292.7" cy="1672.1" r="5.3"/></g>
<g id="c53-1"><circle cx="326.3" cy="1611.3" r="5.3"/></g>
<g id="c53-2"><circle cx="326.3" cy="1631.6" r="5.3"/></g>
<g id="c54-1"><circle cx="196.7" cy="1287" r="5.3"/></g>
<g id="c54-2"><circle cx="196.7" cy="1307.3" r="5.3"/></g>
<g id="c54-3"><circle cx="196.7" cy="1327.6" r="5.3"/></g>
<g id="c54-4"><circle cx="196.7" cy="1347.8" r="5.3"/></g>
<g id="c54-5"><circle cx="196.7" cy="1368.1" r="5.3"/></g>
<g id="c54-6"><circle cx="196.7" cy="1388.4" r="5.3"/></g>
<g id="c54-7"><circle cx="196.7" cy="1408.6" r="5.3"/></g>
<g id="c54-8"><circle cx="196.7" cy="1428.9" r="5.3"/></g>
<g id="c54-9"><circle cx="196.7" cy="1449.2" r="5.3"/></g>
<g id="c54-10"><circle cx="196.7" cy="1469.4" r="5.3"/></g>
<g id="c54-11"><circle cx="196.7" cy="1489.7" r="5.3"/></g>
<g id="c54-12"><circle cx="196.7" cy="1510" r="5.3"/></g>
<g id="c54-13"><circle cx="196.7" cy="1530.3" r="5.3"/></g>
<g id="c54-14"><circle cx="196.7" cy="1550.5" r="5.3"/></g>
<g id="c54-15"><circle cx="196.7" cy="1570.8" r="5.3"/></g>
<g id="c54-16"><circle cx="196.7" cy="1591.1" r="5.3"/></g>
<g id="c54-17"><circle cx="196.7" cy="1611.3" r="5.3"/></g>
<g id="c54-18"><circle cx="196.7" cy="1631.6" r="5.3"/></g>
<g id="c55-1"><circle cx="230" cy="1368.1" r="5.3"/></g>
<g id="c55-2"><circle cx="230" cy="1388.4" r="5.3"/></g>
<g id="c55-3"><circle cx="230" cy="1408.6" r="5.3"/></g>
<g id="c55-4"><circle cx="230" cy="1428.9" r="5.3"/></g>
<g id="c56-1"><circle cx="230" cy="1449.2" r="5.3"/></g>
<g id="c56-2"><circle cx="230" cy="1469.4" r="5.3"/></g>
<g id="c56-3"><circle cx="230" cy="1489.7" r="5.3"/></g>
<g id="c56-4"><circle cx="230" cy="1510" r="5.3"/></g>
<g id="c56-5"><circle cx="230" cy="1530.3" r="5.3"/></g>
<g id="c56-6"><circle cx="230" cy="1550.5" r="5.3"/></g>
<g id="c56-7"><circle cx="230" cy="1570.8" r="5.3"/></g>
<g id="c56-8"><circle cx="230" cy="1591.1" r="5.3"/></g>
<g id="c57-1"><circle cx="232.3" cy="1611.3" r="5.3"/></g>
<g id="c57-2"><circle cx="240.7" cy="1631.6" r="5.3"/></g>
<g id="c57-3"><circle cx="243.3" cy="1651.9" r="5.3"/></g>
<g id="c57-4"><circle cx="243.3" cy="1672.1" r="5.3"/></g>
<g id="c57-5"><circle cx="243.3" cy="1692.4" r="5.3"/></g>
<g id="c57-6"><circle cx="243.3" cy="1712.7" r="5.3"/></g>
<g id="c58-1"><circle cx="176.7" cy="1651.9" r="5.3"/></g>
<g id="c58-2"><circle cx="176.7" cy="1672.1" r="5.3"/></g>
<g id="c58-3"><circle cx="176.7" cy="1692.4" r="5.3"/></g>
<g id="c58-4"><circle cx="176.7" cy="1712.7" r="5.3"/></g>
<g id="c58-5"><circle cx="176.7" cy="1733" r="5.3"/></g>
<g id="c58-6"><circle cx="176.7" cy="1753.2" r="5.3"/></g>
<g id="c59-1"><circle cx="210" cy="1651.9" r="5.3"/></g>
<g id="c59-2"><circle cx="210" cy="1672.1" r="5.3"/></g>
<g id="c59-3"><circle cx="210" cy="1692.4" r="5.3"/></g>
<g id="c59-4"><circle cx="210" cy="1712.7" r="5.3"/></g>
<g id="c59-5"><circle cx="210" cy="1733" r="5.3"/></g>
<g id="c59-6"><circle cx="210" cy="1753.2" r="5.3"/></g>
<g id="c60-1"><circle cx="243.3" cy="1733" r="5.3"/></g>
<g id="c60-2"><circle cx="243.3" cy="1753.2" r="5.3"/></g>
<g id="c60-3"><circle cx="243.3" cy="1773.5" r="5.3"/></g>
<g id="c60-4"><circle cx="243.3" cy="1793.8" r="5.3"/></g>
<g id="c61-1"><circle cx="210" cy="1773.5" r="5.3"/></g>
<g id="c61-2"><circle cx="210" cy="1793.8" r="5.3"/></g>
<g id="c62-1"><circle cx="133.7" cy="1530.3" r="5.3"/></g>
<g id="c62-2"><circle cx="133.7" cy="1550.5" r="5.3"/></g>
<g id="c62-3"><circle cx="133.7" cy="1570.8" r="5.3"/></g>
<g id="c62-4"><circle cx="133.7" cy="1591.1" r="5.3"/></g>
<g id="c62-5"><circle cx="133.7" cy="1611.3" r="5.3"/></g>
<g id="c62-6"><circle cx="133.7" cy="1631.6" r="5.3"/></g>
<g id="c63-1"><circle cx="143.3" cy="1651.9" r="5.3"/></g>
<g id="c63-2"><circle cx="143.3" cy="1672.1" r="5.3"/></g>
<g id="c64-1"><circle cx="110" cy="1651.9" r="5.3"/></g>
<g id="c64-2"><circle cx="110" cy="1672.1" r="5.3"/></g>
<g id="c64-3"><circle cx="110" cy="1692.4" r="5.3"/></g>
<g id="c64-4"><circle cx="110" cy="1712.7" r="5.3"/></g>
<g id="c64-5"><circle cx="110" cy="1733" r="5.3"/></g>
<g id="c64-6"><circle cx="110" cy="1753.2" r="5.3"/></g>
<g id="c64-7"><circle cx="110" cy="1773.5" r="5.3"/></g>
<g id="c64-8"><circle cx="110" cy="1793.8" r="5.3"/></g>
<g id="c65-1"><circle cx="76.7" cy="1733" r="5.3"/></g>
<g id="c65-2"><circle cx="76.7" cy="1753.2" r="5.3"/></g>
<g id="c66-1"><circle cx="143.3" cy="1692.4" r="5.3"/></g>
<g id="c66-2"><circle cx="143.3" cy="1712.7" r="5.3"/></g>
<g id="c66-3"><circle cx="143.3" cy="1733" r="5.3"/></g>
<g id="c66-4"><circle cx="143.3" cy="1753.2" r="5.3"/></g>
<g id="c66-5"><circle cx="159.3" cy="1773.5" r="5.3"/></g>
<g id="c66-6"><circle cx="159.3" cy="1793.8" r="5.3"/></g>
<g id="c66-7"><circle cx="170" cy="1814" r="5.3"/></g>
<g id="c66-8"><circle cx="186" cy="1834.3" r="5.3"/></g>
<g id="c66-9"><circle cx="196.7" cy="1854.6" r="5.3"/></g>
<g id="c66-10"><circle cx="199.3" cy="1874.8" r="5.3"/></g>
<g id="c66-11"><circle cx="202" cy="1895.1" r="5.3"/></g>
<g id="c66-12"><circle cx="202" cy="1915.4" r="5.3"/></g>
<g id="c66-13"><circle cx="202" cy="1935.7" r="5.3"/></g>
<g id="c66-14"><circle cx="202" cy="1955.9" r="5.3"/></g>
<g id="c66-15"><circle cx="202" cy="1976.2" r="5.3"/></g>
<g id="c66-16"><circle cx="202" cy="1996.5" r="5.3"/></g>
<g id="c66-17"><circle cx="202" cy="2016.7" r="5.3"/></g>
<g id="c66-18"><circle cx="202" cy="2037" r="5.3"/></g>
<g id="c66-19"><circle cx="202" cy="2057.3" r="5.3"/></g>
<g id="c66-20"><circle cx="202" cy="2077.5" r="5.3"/></g>
<g id="c67-1"><circle cx="235.3" cy="2016.7" r="5.3"/></g>
<g id="c67-2"><circle cx="235.3" cy="2037" r="5.3"/></g>
<g id="c67-3"><circle cx="235.3" cy="2057.3" r="5.3"/></g>
<g id="c67-4"><circle cx="235.3" cy="2077.5" r="5.3"/></g>
<g id="c68-1"><circle cx="168.7" cy="2057.3" r="5.3"/></g>
<g id="c68-2"><circle cx="168.7" cy="2077.5" r="5.3"/></g>
<g id="c68-3"><circle cx="168.7" cy="2097.8" r="5.3"/></g>
<g id="c68-4"><circle cx="168.7" cy="2118.1" r="5.3"/></g>
<g id="c69-1"><circle cx="92.7" cy="1814" r="5.3"/></g>
<g id="c69-2"><circle cx="92.7" cy="1834.3" r="5.3"/></g>
<g id="c69-3"><circle cx="92.7" cy="1854.6" r="5.3"/></g>
<g id="c69-4"><circle cx="92.7" cy="1874.8" r="5.3"/></g>
<g id="c70-1"><circle cx="102" cy="1895.1" r="5.3"/></g>
<g id="c70-2"><circle cx="102" cy="1915.4" r="5.3"/></g>
<g id="c71-1"><circle cx="68.7" cy="1895.1" r="5.3"/></g>
<g id="c71-2"><circle cx="68.7" cy="1915.4" r="5.3"/></g>
<g id="c72-1"><circle cx="52.7" cy="1935.7" r="5.3"/></g>
<g id="c72-2"><circle cx="52.7" cy="1955.9" r="5.3"/></g>
<g id="c72-3"><circle cx="52.7" cy="1976.2" r="5.3"/></g>
<g id="c72-4"><circle cx="52.7" cy="1996.5" r="5.3"/></g>
<g id="c72-5"><circle cx="52.7" cy="2016.7" r="5.3"/></g>
<g id="c72-6"><circle cx="52.7" cy="2037" r="5.3"/></g>
<g id="c72-7"><circle cx="52.7" cy="2057.3" r="5.3"/></g>
<g id="c72-8"><circle cx="52.7" cy="2077.5" r="5.3"/></g>
<g id="c73-1"><circle cx="86" cy="1935.7" r="5.3"/></g>
<g id="c73-2"><circle cx="86" cy="1955.9" r="5.3"/></g>
<g id="c73-3"><circle cx="86" cy="1976.2" r="5.3"/></g>
<g id="c73-4"><circle cx="86" cy="1996.5" r="5.3"/></g>
<g id="c73-5"><circle cx="86" cy="2016.7" r="5.3"/></g>
<g id="c73-6"><circle cx="86" cy="2037" r="5.3"/></g>
<g id="c73-7"><circle cx="86" cy="2057.3" r="5.3"/></g>
<g id="c73-8"><circle cx="86" cy="2077.5" r="5.3"/></g>
<g id="c74-1"><circle cx="126" cy="1814" r="5.3"/></g>
<g id="c74-2"><circle cx="126" cy="1834.3" r="5.3"/></g>
<g id="c74-3"><circle cx="126" cy="1854.6" r="5.3"/></g>
<g id="c74-4"><circle cx="126" cy="1874.8" r="5.3"/></g>
<g id="c75-1"><circle cx="159.3" cy="1854.6" r="5.3"/></g>
<g id="c75-2"><circle cx="159.3" cy="1874.8" r="5.3"/></g>
<g id="c76-1"><circle cx="135.3" cy="1895.1" r="5.3"/></g>
<g id="c76-2"><circle cx="135.3" cy="1915.4" r="5.3"/></g>
<g id="c76-3"><circle cx="135.3" cy="1935.7" r="5.3"/></g>
<g id="c76-4"><circle cx="135.3" cy="1955.9" r="5.3"/></g>
<g id="c77-1"><circle cx="168.7" cy="1895.1" r="5.3"/></g>
<g id="c77-2"><circle cx="168.7" cy="1915.4" r="5.3"/></g>
<g id="c77-3"><circle cx="168.7" cy="1935.7" r="5.3"/></g>
<g id="c77-4"><circle cx="168.7" cy="1955.9" r="5.3"/></g>
<g id="c77-5"><circle cx="168.7" cy="1976.2" r="5.3"/></g>
<g id="c77-6"><circle cx="168.7" cy="1996.5" r="5.3"/></g>
<g id="c77-7"><circle cx="168.7" cy="2016.7" r="5.3"/></g>
<g id="c77-8"><circle cx="168.7" cy="2037" r="5.3"/></g>
<g id="c78-1"><circle cx="135.3" cy="2016.7" r="5.3"/></g>
<g id="c78-2"><circle cx="135.3" cy="2037" r="5.3"/></g>
<g id="c78-3"><circle cx="135.3" cy="2057.3" r="5.3"/></g>
<g id="c78-4"><circle cx="135.3" cy="2077.5" r="5.3"/></g>
<g id="c78-5"><circle cx="135.3" cy="2097.8" r="5.3"/></g>
<g id="c78-6"><circle cx="135.3" cy="2118.1" r="5.3"/></g>
<g id="c79-1"><circle cx="91.3" cy="1570.8" r="5.3"/></g>
<g id="c79-2"><circle cx="75.3" cy="1591.1" r="5.3"/></g>
<g id="c79-3"><circle cx="67.3" cy="1611.3" r="5.3"/></g>
<g id="c79-4"><circle cx="63.3" cy="1631.6" r="5.3"/></g>
<g id="c79-5"><circle cx="60.7" cy="1651.9" r="5.3"/></g>
<g id="c79-6"><circle cx="60.7" cy="1672.1" r="5.3"/></g>
<g id="c79-7"><circle cx="60.7" cy="1692.4" r="5.3"/></g>
<g id="c79-8"><circle cx="60.7" cy="1712.7" r="5.3"/></g>
<g id="c80-1"><circle cx="27.3" cy="1692.4" r="5.3"/></g>
<g id="c80-2"><circle cx="27.3" cy="1712.7" r="5.3"/></g>
<g id="c81-1"><circle cx="43.3" cy="1733" r="5.3"/></g>
<g id="c81-2"><circle cx="43.3" cy="1753.2" r="5.3"/></g>
<g id="c81-3"><circle cx="43.3" cy="1773.5" r="5.3"/></g>
<g id="c81-4"><circle cx="43.3" cy="1793.8" r="5.3"/></g>
<g id="c81-5"><circle cx="43.3" cy="1814" r="5.3"/></g>
<g id="c81-6"><circle cx="43.3" cy="1834.3" r="5.3"/></g>
<g id="c81-7"><circle cx="43.3" cy="1854.6" r="5.3"/></g>
<g id="c81-8"><circle cx="43.3" cy="1874.8" r="5.3"/></g>
<g id="c82-1"><circle cx="10" cy="1773.5" r="5.3"/></g>
<g id="c82-2"><circle cx="10" cy="1793.8" r="5.3"/></g>
<g id="c82-3"><circle cx="10" cy="1814" r="5.3"/></g>
<g id="c82-4"><circle cx="10" cy="1834.3" r="5.3"/></g>
<g id="c82-5"><circle cx="10" cy="1854.6" r="5.3"/></g>
<g id="c82-6"><circle cx="10" cy="1874.8" r="5.3"/></g>
<g id="c83-1"><circle cx="35.3" cy="1895.1" r="5.3"/></g>
<g id="c83-2"><circle cx="35.3" cy="1915.4" r="5.3"/></g>
<g id="c84-1"><circle cx="296.3" cy="719.5" r="5.3"/></g>
<g id="c84-2"><circle cx="296.3" cy="739.7" r="5.3"/></g>
<g id="c84-3"><circle cx="296.3" cy="760" r="5.3"/></g>
<g id="c84-4"><circle cx="296.3" cy="780.3" r="5.3"/></g>
<g id="c85-1"><circle cx="263.3" cy="760" r="5.3"/></g>
<g id="c85-2"><circle cx="263.3" cy="780.3" r="5.3"/></g>
<g id="c85-3"><circle cx="263.3" cy="800.5" r="5.3"/></g>
<g id="c85-4"><circle cx="263.3" cy="820.8" r="5.3"/></g>
<g id="c85-5"><circle cx="263.3" cy="841.1" r="5.3"/></g>
<g id="c85-6"><circle cx="263.3" cy="861.3" r="5.3"/></g>
<g id="c85-7"><circle cx="263.3" cy="881.6" r="5.3"/></g>
<g id="c85-8"><circle cx="263.3" cy="901.9" r="5.3"/></g>
<g id="c85-9"><circle cx="264.3" cy="922.2" r="5.3"/></g>
<g id="c85-10"><circle cx="265.7" cy="942.4" r="5.3"/></g>
<g id="c85-11"><circle cx="265.7" cy="962.7" r="5.3"/></g>
<g id="c85-12"><circle cx="268.3" cy="983" r="5.3"/></g>
<g id="c85-13"><circle cx="276.7" cy="1003.2" r="5.3"/></g>
<g id="c85-14"><circle cx="292" cy="1023.5" r="5.3"/></g>
<g id="c85-15"><circle cx="297" cy="1043.8" r="5.3"/></g>
<g id="c85-16"><circle cx="297" cy="1064" r="5.3"/></g>
<g id="c85-17"><circle cx="297" cy="1084.3" r="5.3"/></g>
<g id="c85-18"><circle cx="297" cy="1104.6" r="5.3"/></g>
<g id="c86-1"><circle cx="296.3" cy="800.5" r="5.3"/></g>
<g id="c86-2"><circle cx="296.3" cy="820.8" r="5.3"/></g>
<g id="c87-1"><circle cx="296.3" cy="841.1" r="5.3"/></g>
<g id="c87-2"><circle cx="296.3" cy="861.3" r="5.3"/></g>
<g id="c87-3"><circle cx="296.3" cy="881.6" r="5.3"/></g>
<g id="c87-4"><circle cx="296.3" cy="901.9" r="5.3"/></g>
<g id="c88-1"><circle cx="329.7" cy="881.6" r="5.3"/></g>
<g id="c88-2"><circle cx="329.7" cy="901.9" r="5.3"/></g>
<g id="c88-3"><circle cx="329.7" cy="922.2" r="5.3"/></g>
<g id="c88-4"><circle cx="329.7" cy="942.4" r="5.3"/></g>
<g id="c89-1"><circle cx="363" cy="760" r="5.3"/></g>
<g id="c89-2"><circle cx="363" cy="780.3" r="5.3"/></g>
<g id="c90-1"><circle cx="363" cy="800.5" r="5.3"/></g>
<g id="c90-2"><circle cx="363" cy="820.8" r="5.3"/></g>
<g id="c90-3"><circle cx="363" cy="841.1" r="5.3"/></g>
<g id="c90-4"><circle cx="363" cy="861.3" r="5.3"/></g>
<g id="c90-5"><circle cx="363" cy="881.6" r="5.3"/></g>
<g id="c90-6"><circle cx="363" cy="901.9" r="5.3"/></g>
<g id="c90-7"><circle cx="363" cy="922.2" r="5.3"/></g>
<g id="c90-8"><circle cx="363" cy="942.4" r="5.3"/></g>
<g id="c90-9"><circle cx="363" cy="962.7" r="5.3"/></g>
<g id="c90-10"><circle cx="363" cy="983" r="5.3"/></g>
<g id="c90-11"><circle cx="363" cy="1003.2" r="5.3"/></g>
<g id="c90-12"><circle cx="363" cy="1023.5" r="5.3"/></g>
<g id="c90-13"><circle cx="363" cy="1043.8" r="5.3"/></g>
<g id="c90-14"><circle cx="363" cy="1064" r="5.3"/></g>
<g id="c90-15"><circle cx="363" cy="1084.3" r="5.3"/></g>
<g id="c90-16"><circle cx="363" cy="1104.6" r="5.3"/></g>
<g id="c90-17"><circle cx="363" cy="1124.9" r="5.3"/></g>
<g id="c90-18"><circle cx="363" cy="1145.1" r="5.3"/></g>
<g id="c91-1"><circle cx="329.7" cy="841.1" r="5.3"/></g>
<g id="c91-2"><circle cx="329.7" cy="861.3" r="5.3"/></g>
<g id="c92-1"><circle cx="396.3" cy="922.2" r="5.3"/></g>
<g id="c92-2"><circle cx="396.3" cy="942.4" r="5.3"/></g>
<g id="c92-3"><circle cx="396.3" cy="962.7" r="5.3"/></g>
<g id="c92-4"><circle cx="396.3" cy="983" r="5.3"/></g>
<g id="c92-5"><circle cx="396.3" cy="1003.2" r="5.3"/></g>
<g id="c92-6"><circle cx="396.3" cy="1023.5" r="5.3"/></g>
<g id="c92-7"><circle cx="396.3" cy="1043.8" r="5.3"/></g>
<g id="c92-8"><circle cx="396.3" cy="1064" r="5.3"/></g>
<g id="c92-9"><circle cx="396.3" cy="1084.3" r="5.3"/></g>
<g id="c92-10"><circle cx="396.3" cy="1104.6" r="5.3"/></g>
<g id="c93-1"><circle cx="329.7" cy="1043.8" r="5.3"/></g>
<g id="c93-2"><circle cx="329.7" cy="1064" r="5.3"/></g>
<g id="c93-3"><circle cx="329.7" cy="1084.3" r="5.3"/></g>
<g id="c93-4"><circle cx="329.7" cy="1104.6" r="5.3"/></g>
<g id="c93-5"><circle cx="329.7" cy="1124.9" r="5.3"/></g>
<g id="c93-6"><circle cx="329.7" cy="1145.1" r="5.3"/></g>
<g id="c94-1"><circle cx="297" cy="1124.9" r="5.3"/></g>
<g id="c94-2"><circle cx="297" cy="1145.1" r="5.3"/></g>
<g id="c94-3"><circle cx="297" cy="1165.4" r="5.3"/></g>
<g id="c94-4"><circle cx="297" cy="1185.7" r="5.3"/></g>
<g id="c95-1"><circle cx="429.7" cy="1124.9" r="5.3"/></g>
<g id="c95-2"><circle cx="429.7" cy="1145.1" r="5.3"/></g>
<g id="c96-1"><circle cx="396.3" cy="1124.9" r="5.3"/></g>
<g id="c96-2"><circle cx="396.3" cy="1145.1" r="5.3"/></g>
<g id="c96-3"><circle cx="396.3" cy="1165.4" r="5.3"/></g>
<g id="c96-4"><circle cx="396.3" cy="1185.7" r="5.3"/></g>
<g id="c96-5"><circle cx="396.3" cy="1205.9" r="5.3"/></g>
<g id="c96-6"><circle cx="396.3" cy="1226.2" r="5.3"/></g>
<g id="c96-7"><circle cx="396.3" cy="1246.5" r="5.3"/></g>
<g id="c96-8"><circle cx="396.3" cy="1266.7" r="5.3"/></g>
<g id="c96-9"><circle cx="396.3" cy="1287" r="5.3"/></g>
<g id="c96-10"><circle cx="396.3" cy="1307.3" r="5.3"/></g>
<g id="c96-11"><circle cx="396.3" cy="1327.6" r="5.3"/></g>
<g id="c96-12"><circle cx="396.3" cy="1347.8" r="5.3"/></g>
<g id="c96-13"><circle cx="396.3" cy="1368.1" r="5.3"/></g>
<g id="c96-14"><circle cx="396.3" cy="1388.4" r="5.3"/></g>
<g id="c97-1"><circle cx="363" cy="1327.6" r="5.3"/></g>
<g id="c97-2"><circle cx="363" cy="1347.8" r="5.3"/></g>
<g id="c98-1"><circle cx="429.7" cy="1327.6" r="5.3"/></g>
<g id="c98-2"><circle cx="429.7" cy="1347.8" r="5.3"/></g>
<g id="c99-1"><circle cx="359" cy="1408.6" r="5.3"/></g>
<g id="c99-2"><circle cx="354" cy="1428.9" r="5.3"/></g>
<g id="c99-3"><circle cx="351.3" cy="1449.2" r="5.3"/></g>
<g id="c99-4"><circle cx="351.3" cy="1469.4" r="5.3"/></g>
<g id="c99-5"><circle cx="351.3" cy="1489.7" r="5.3"/></g>
<g id="c99-6"><circle cx="351.3" cy="1510" r="5.3"/></g>
<g id="c99-7"><circle cx="351.3" cy="1530.3" r="5.3"/></g>
<g id="c99-8"><circle cx="351.3" cy="1550.5" r="5.3"/></g>
<g id="c100-1"><circle cx="332.7" cy="1570.8" r="5.3"/></g>
<g id="c100-2"><circle cx="332.7" cy="1591.1" r="5.3"/></g>
<g id="c101-1"><circle cx="366" cy="1570.8" r="5.3"/></g>
<g id="c101-2"><circle cx="366" cy="1591.1" r="5.3"/></g>
<g id="c101-3"><circle cx="366" cy="1611.3" r="5.3"/></g>
<g id="c101-4"><circle cx="366" cy="1631.6" r="5.3"/></g>
<g id="c102-1"><circle cx="374.3" cy="1651.9" r="5.3"/></g>
<g id="c102-2"><circle cx="374.3" cy="1672.1" r="5.3"/></g>
<g id="c103-1"><circle cx="340.7" cy="1651.9" r="5.3"/></g>
<g id="c103-2"><circle cx="340.7" cy="1672.1" r="5.3"/></g>
<g id="c104-1"><circle cx="309.7" cy="1692.4" r="5.3"/></g>
<g id="c104-2"><circle cx="309.7" cy="1712.7" r="5.3"/></g>
<g id="c104-3"><circle cx="309.7" cy="1733" r="5.3"/></g>
<g id="c104-4"><circle cx="309.7" cy="1753.2" r="5.3"/></g>
<g id="c105-1"><circle cx="276.7" cy="1733" r="5.3"/></g>
<g id="c105-2"><circle cx="276.7" cy="1753.2" r="5.3"/></g>
<g id="c105-3"><circle cx="276.7" cy="1773.5" r="5.3"/></g>
<g id="c105-4"><circle cx="276.7" cy="1793.8" r="5.3"/></g>
<g id="c105-5"><circle cx="276.7" cy="1814" r="5.3"/></g>
<g id="c105-6"><circle cx="276.7" cy="1834.3" r="5.3"/></g>
<g id="c106-1"><circle cx="259.3" cy="1854.6" r="5.3"/></g>
<g id="c106-2"><circle cx="259.3" cy="1874.8" r="5.3"/></g>
<g id="c107-1"><circle cx="292.7" cy="1854.6" r="5.3"/></g>
<g id="c107-2"><circle cx="292.7" cy="1874.8" r="5.3"/></g>
<g id="c107-3"><circle cx="292.7" cy="1895.1" r="5.3"/></g>
<g id="c107-4"><circle cx="292.7" cy="1915.4" r="5.3"/></g>
<g id="c108-1"><circle cx="343.7" cy="1692.4" r="5.3"/></g>
<g id="c108-2"><circle cx="343.7" cy="1712.7" r="5.3"/></g>
<g id="c108-3"><circle cx="343.7" cy="1733" r="5.3"/></g>
<g id="c108-4"><circle cx="343.7" cy="1753.2" r="5.3"/></g>
<g id="c108-5"><circle cx="343.7" cy="1773.5" r="5.3"/></g>
<g id="c108-6"><circle cx="343.7" cy="1793.8" r="5.3"/></g>
<g id="c108-7"><circle cx="343.7" cy="1814" r="5.3"/></g>
<g id="c108-8"><circle cx="343.7" cy="1834.3" r="5.3"/></g>
<g id="c109-1"><circle cx="334" cy="1854.6" r="5.3"/></g>
<g id="c109-2"><circle cx="334" cy="1874.8" r="5.3"/></g>
<g id="c109-3"><circle cx="334" cy="1895.1" r="5.3"/></g>
<g id="c109-4"><circle cx="334" cy="1915.4" r="5.3"/></g>
<g id="c110-1"><circle cx="367.3" cy="1854.6" r="5.3"/></g>
<g id="c110-2"><circle cx="367.3" cy="1874.8" r="5.3"/></g>
<g id="c110-3"><circle cx="367.3" cy="1895.1" r="5.3"/></g>
<g id="c110-4"><circle cx="367.3" cy="1915.4" r="5.3"/></g>
<g id="c111-1"><circle cx="350" cy="1935.7" r="5.3"/></g>
<g id="c111-2"><circle cx="350" cy="1955.9" r="5.3"/></g>
<g id="c111-3"><circle cx="350" cy="1976.2" r="5.3"/></g>
<g id="c111-4"><circle cx="350" cy="1996.5" r="5.3"/></g>
<g id="c112-1"><circle cx="383.3" cy="1935.7" r="5.3"/></g>
<g id="c112-2"><circle cx="383.3" cy="1955.9" r="5.3"/></g>
<g id="c113-1"><circle cx="402" cy="1408.6" r="5.3"/></g>
<g id="c113-2"><circle cx="407" cy="1428.9" r="5.3"/></g>
<g id="c114-1"><circle cx="384.3" cy="1449.2" r="5.3"/></g>
<g id="c114-2"><circle cx="384.3" cy="1469.4" r="5.3"/></g>
<g id="c115-1"><circle cx="418" cy="1449.2" r="5.3"/></g>
<g id="c115-2"><circle cx="418" cy="1469.4" r="5.3"/></g>
<g id="c115-3"><circle cx="418" cy="1489.7" r="5.3"/></g>
<g id="c115-4"><circle cx="418" cy="1510" r="5.3"/></g>
<g id="c115-5"><circle cx="418" cy="1530.3" r="5.3"/></g>
<g id="c115-6"><circle cx="418" cy="1550.5" r="5.3"/></g>
<g id="c115-7"><circle cx="418" cy="1570.8" r="5.3"/></g>
<g id="c115-8"><circle cx="418" cy="1591.1" r="5.3"/></g>
<g id="c115-9"><circle cx="418" cy="1611.3" r="5.3"/></g>
<g id="c115-10"><circle cx="418" cy="1631.6" r="5.3"/></g>
<g id="c115-11"><circle cx="418" cy="1651.9" r="5.3"/></g>
<g id="c115-12"><circle cx="418" cy="1672.1" r="5.3"/></g>
<g id="c116-1"><circle cx="451.3" cy="1449.2" r="5.3"/></g>
<g id="c116-2"><circle cx="451.3" cy="1469.4" r="5.3"/></g>
</g>
</svg>
